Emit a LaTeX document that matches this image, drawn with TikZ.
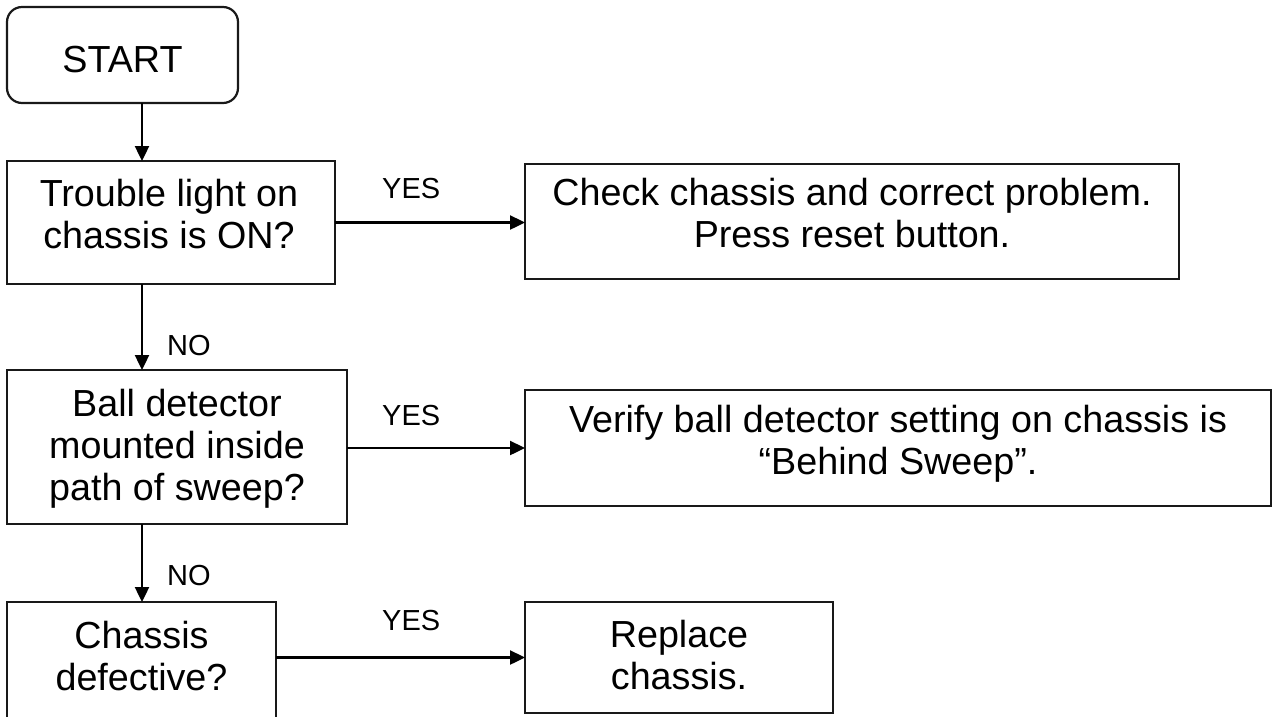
\documentclass[tikz,border=0pt]{standalone}
\usepackage{fontspec}
\setmainfont{Liberation Sans}
\usetikzlibrary{arrows.meta}
\begin{document}
\begin{tikzpicture}[x=1pt,y=-1pt,
  boxnode/.style={draw=black!90, line width=2.2pt, inner sep=0pt, outer sep=0pt, anchor=north west},
  txt/.style={font=\fontsize{37.7}{42}\selectfont, align=center, anchor=base, inner sep=0pt},
  lbl/.style={font=\fontsize{29}{33}\selectfont, anchor=base west, inner sep=0pt},
  arr/.style={line width=2.4pt, -{Triangle[length=15pt,width=14pt]}}]
\useasboundingbox (0,0) rectangle (1272,716);
\clip (0,0) rectangle (1272,716);
% boxes
\node[boxnode, rounded corners=15pt, minimum width=231pt, minimum height=96pt] (start) at (7,7) {};
\node[boxnode, minimum width=328pt, minimum height=123pt] (trouble) at (7,161) {};
\node[boxnode, minimum width=654pt, minimum height=115pt] (check) at (525,164) {};
\node[boxnode, minimum width=340pt, minimum height=154pt] (ball) at (7,370) {};
\node[boxnode, minimum width=746pt, minimum height=116pt] (verify) at (525,390) {};
\node[boxnode, minimum width=269pt, minimum height=140pt] (chassis) at (7,602) {};
\node[boxnode, minimum width=308pt, minimum height=111pt] (replace) at (525,602) {};
% texts (anchor = baseline of the last line)
\node[txt] (tstart) at (122.5,72) {START};
\node[txt] (ttrouble) at (169,248) {Trouble light on\\chassis is ON?};
\node[txt] (tcheck) at (852,247) {Check chassis and correct problem.\\Press reset button.};
\node[txt] (tball) at (177,500) {Ball detector\\mounted inside\\path of sweep?};
\node[txt] (tverify) at (898,474) {Verify ball detector setting on chassis is\\“Behind Sweep”.};
\node[txt] (tchassis) at (141.5,690) {Chassis\\defective?};
\node[txt] (treplace) at (679,689) {Replace\\chassis.};
% connectors
\coordinate (spine) at (142,0);
\draw[arr] (start.south -| spine) -- (trouble.north -| spine);
\draw[arr] (trouble.south -| spine) -- (ball.north -| spine);
\draw[arr] (ball.south -| spine) -- (chassis.north -| spine);
\draw[arr] (trouble.east) -- (trouble.east -| check.west);
\draw[arr] (ball.east |- verify.west) -- (verify.west);
\draw[arr] (chassis.east |- replace.west) -- (replace.west);
% labels
\node[lbl] (y1) at (382,198) {YES};
\node[lbl] (y2) at (382,425) {YES};
\node[lbl] (y3) at (382,630) {YES};
\node[lbl] (n1) at (167,355) {NO};
\node[lbl] (n2) at (167,585) {NO};
\end{tikzpicture}
\end{document}
